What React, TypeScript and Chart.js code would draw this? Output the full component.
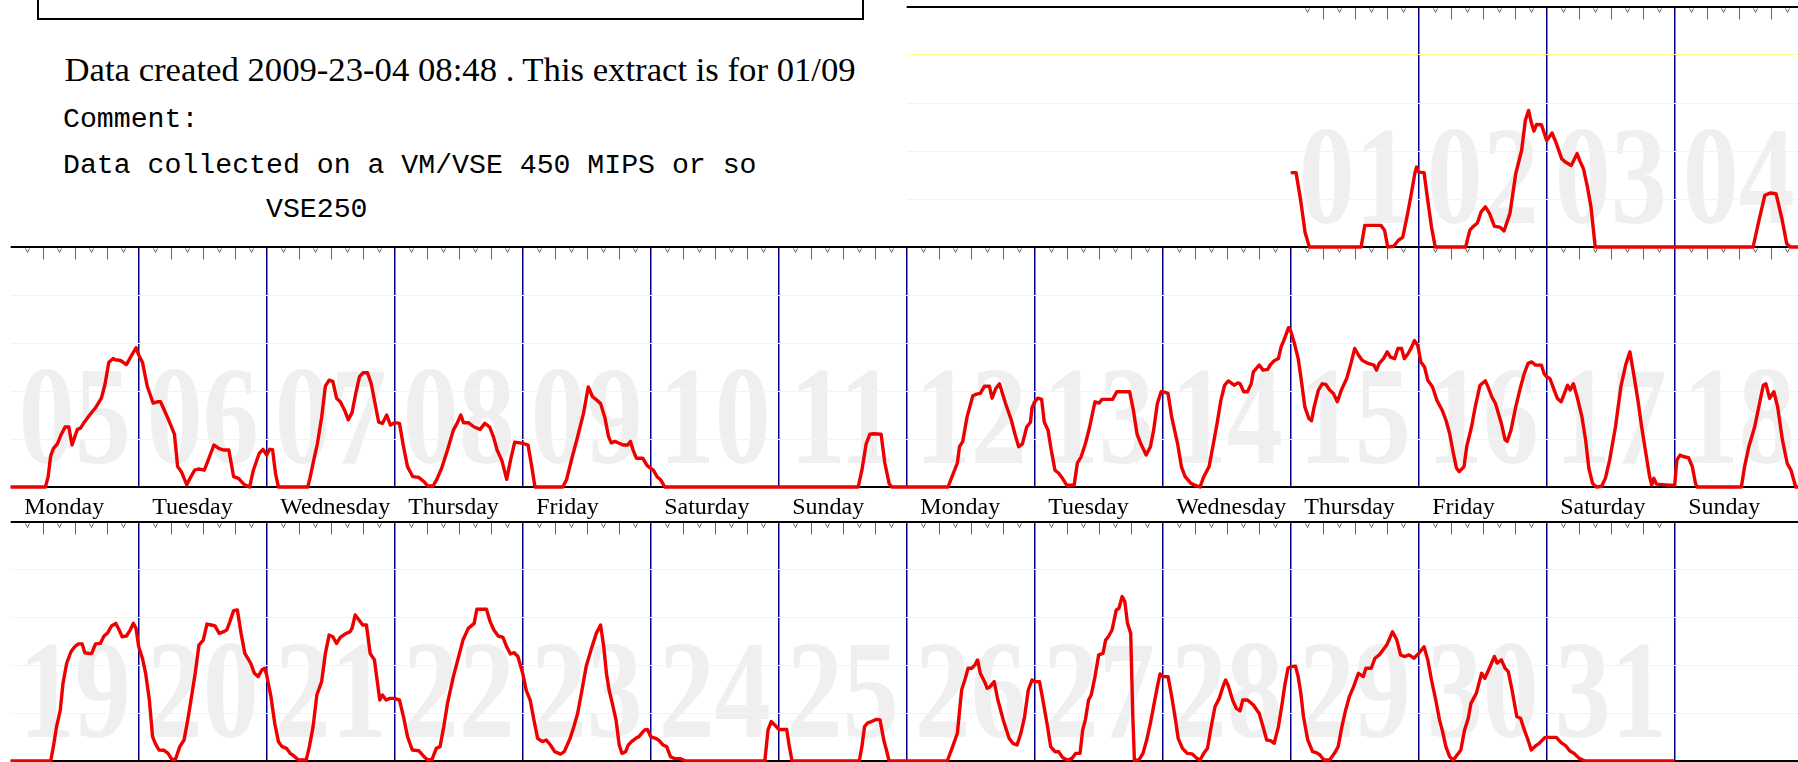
import React, { useEffect, useRef } from "react";
import { Chart, registerables } from "chart.js";

Chart.register(...registerables);

type P = [number, number]; // [hour of day, percent]

// ---------------- data: one array per calendar day (hour, value %) ----------------
const d01: P[] = [[0,31],[1,31],[1.9,19],[2.7,6],[3.5,0],[13.2,0],[13.9,9],[16.9,9],[17.6,7],[18.2,0],[19.3,0.3],[20.2,2.8],[21,4],[21.8,12.5],[22.6,22],[23.3,31],[23.6,33.3],[24,31.2]];
const d02: P[] = [[0,31.2],[1,31],[1.7,19.4],[2.4,8.3],[3.1,0],[8.8,0],[9.6,7],[10.1,8.3],[11,10],[11.7,14.6],[12.5,16.7],[13.3,13.9],[14.2,8.6],[15.2,8.3],[16,6.7],[17.1,13.9],[18.2,30.6],[19.3,40.3],[20,52.8],[20.6,56.9],[21.1,52],[21.6,48.3],[22.1,51.1],[23,51],[24,44.4]];
const d03: P[] = [[0,44.4],[1,47.5],[1.7,43.8],[2.8,36.8],[3.5,35.4],[4.6,34],[5.7,38.9],[6.2,36],[6.9,32.5],[7.6,25.5],[8.3,16.7],[9.1,0],[24,0]];
const d04: P[] = [[0,0],[14.7,0],[15.8,11.1],[16.9,21.5],[17.9,22.5],[19,22.2],[20.1,11.8],[21,1.4],[21.7,0],[24,0]];
const d05: P[] = [[0,0],[6.5,0],[7,4],[7.5,13],[8,16],[8.75,18],[9.5,22],[10.2,25],[10.9,25],[11.5,17.5],[12.5,24],[13.1,24.5],[13.8,27],[14.8,30],[15.9,33],[17,37],[17.7,43],[18.4,52],[19.2,53.5],[19.6,53],[20.6,52.7],[21.7,51],[22.7,55],[23.5,58],[24,55]];
const d06: P[] = [[0,55],[0.7,52],[1.6,42],[2.7,35],[3.5,35.5],[4.1,35.5],[5.6,28],[6.7,22],[7.3,8.5],[8,6.4],[9,1],[9.8,4.3],[10.5,7],[11.2,7.5],[12.3,7],[13,11],[14.1,17.5],[15.1,16],[16,15.4],[16.9,15.4],[17.8,4.3],[18.7,3.6],[19.8,1],[20.8,0],[21.5,7],[22.6,14],[23.3,15.7],[24,13.3]];
const d07: P[] = [[0,13.3],[0.57,15.7],[1.1,15.5],[1.65,5.7],[2.2,0],[7.7,0],[8.1,3.6],[8.8,11],[9.5,18],[10.3,29],[11,42],[11.7,44.5],[12.4,44],[13.1,37],[13.8,35.5],[14.6,32],[15.3,28],[16,31],[16.7,39],[17.4,46],[18.1,47.6],[18.9,47.6],[19.6,43],[20.3,35],[21,27],[21.7,26.5],[22.5,30],[23.2,25.8],[24,26.8]];
const d08: P[] = [[0,26.8],[0.9,26.5],[1.65,16.8],[2.4,8.5],[3.4,4.3],[4.5,4],[5.5,2.2],[6.2,0.4],[7.2,0.4],[7.9,3.2],[8.8,7.8],[9.9,15.4],[11,23.7],[11.7,26.5],[12.4,30],[12.9,26.8],[13.8,26.8],[14.9,25],[16,24],[16.9,26.5],[17.8,25],[18.5,21],[19.2,15.4],[20.1,11],[21,3.2],[21.7,11],[22.5,18.7],[23.5,18.4],[24,18.2]];
const d09: P[] = [[0,18.2],[1,17.5],[1.7,8.5],[2.3,0],[7.5,0],[8.2,2.9],[9.3,12.6],[10.3,21],[11.4,30.7],[12.3,41.7],[13.1,37.6],[13.9,36.2],[14.6,34.8],[15.4,29],[16.1,21],[16.6,18.4],[17.3,19],[18.1,18.2],[18.8,17.5],[19.7,17.5],[20.2,19],[20.7,15.4],[21.3,12],[22.5,12],[23.3,9],[24,7.8]];
const d10: P[] = [[0,7.8],[0.5,7],[1.2,4.3],[1.9,2.9],[2.65,0],[24,0]];
const d11: P[] = [[0,0],[14.9,0],[15.6,7],[16.4,18],[17.1,22],[17.8,22.2],[19.2,22],[19.9,10],[20.7,1.5],[21.2,0],[24,0]];
const d12: P[] = [[0,0],[7.75,0],[8.5,4.3],[9.5,10],[9.9,16.8],[10.5,18.9],[11.3,29],[12.4,38],[13.1,38.7],[13.8,39],[14.6,42],[15.5,42],[16,37],[16.7,41],[17.4,43],[18.5,35],[19.6,28],[20.3,22],[21,16.8],[21.7,18],[22.5,25],[23.2,27],[23.5,33],[24,35.5]];
const d13: P[] = [[0,35.5],[0.6,37],[1.3,36.5],[1.8,27],[2.5,23.7],[3.1,15.4],[3.8,7],[4.5,5.7],[5.2,3.6],[6,0.8],[7.4,0.8],[8,10],[8.7,12.6],[9.5,18],[10.3,25],[11.3,35.5],[12.1,35],[12.6,36.5],[14.6,36.5],[15.4,39.7],[17.8,39.7],[18.5,32],[19.2,22],[19.9,18],[20.9,13.3],[21.7,16.8],[22.3,23.7],[23,34.8],[23.7,39.7],[24,39.7]];
const d14: P[] = [[0,39.7],[1,39],[1.7,29],[2.8,18],[3.5,8.5],[4.2,4.3],[5.3,1.5],[6,0.8],[7,0],[7.7,4.3],[8.7,8.5],[9.5,18],[10.2,26.5],[10.9,36],[11.6,42.4],[12.3,44.2],[13.4,42.4],[14.1,43.4],[14.5,43],[15.2,39.7],[15.9,39.7],[16.6,43],[17,48],[18.1,50.8],[18.8,48.7],[19.7,49],[20.2,51],[20.9,52.6],[21.7,53.5],[22.2,58.4],[22.7,61],[23.6,66.4],[24,65]];
const d15: P[] = [[0,65],[0.7,59.8],[1.4,53.5],[1.9,45.9],[2.65,33.4],[3.4,28.6],[3.9,27.6],[4.4,33.4],[5.2,40.4],[5.9,43],[6.6,42.7],[7.3,40.4],[8,39],[8.75,35.5],[9.5,40.4],[10.5,45.2],[11.3,51.5],[12,57.7],[12.7,55],[13.4,52.8],[14.5,51.5],[15.6,50.8],[16.1,48.7],[16.6,51.5],[17.4,53.5],[18.1,56.3],[18.7,54.1],[19.5,53.5],[20.1,57.7],[20.8,57.7],[21.3,53.5],[22,55.5],[22.7,58.4],[23.2,61],[23.8,59],[24,57]];
const d16: P[] = [[0,57],[0.4,52.1],[1.1,50],[1.7,44.5],[2.6,41.7],[3.4,36.2],[4.4,32],[5.1,27.9],[5.8,22.3],[6.5,14],[7.1,7.8],[7.6,6.4],[8.5,8.5],[9,16.8],[9.9,25],[10.6,33.4],[11.5,42.4],[12.5,44.2],[13,41.7],[13.7,37.6],[14.4,34.8],[15.5,26.5],[16.2,19.6],[16.6,19],[17.3,23.7],[18.2,33.4],[19.1,41.7],[19.8,47.3],[20.5,51.5],[21.2,52.1],[21.9,50.8],[23,50.8],[23.5,47.3],[24,45.9]];
const d17: P[] = [[0,45.9],[0.6,45.2],[1.3,41],[2,36.9],[2.7,35.5],[3.2,38.3],[3.9,42.4],[4.4,40.4],[5,43],[5.7,37.6],[6.6,29.3],[7.3,19.6],[7.9,7.8],[8.6,1.5],[9.3,0],[10.3,0.3],[11,3.6],[11.8,11.2],[12.9,25.1],[13.9,41.7],[14.8,50.8],[15.6,56.3],[16.4,45.9],[17.1,36.2],[17.8,25.1],[18.6,14],[19.3,4.3],[19.7,0.8],[20.1,3.6],[20.6,1.2],[23,0.8],[24,0.8]];
const d18: P[] = [[0,0.8],[0.4,11.2],[1,13.3],[1.7,12.6],[2.6,12.2],[3.3,8.5],[3.9,1.5],[4.2,0],[12.5,0],[13.1,8.5],[13.9,16.8],[15,25.1],[15.9,34.8],[16.6,42.4],[17.1,43],[17.8,36.9],[18.6,39.7],[19.3,33.4],[20.2,19.6],[21.1,9.8],[21.8,7],[22.7,0],[24,0]];
const d19: P[] = [[0,0],[7.5,0],[8,6],[8.6,14.4],[9.3,21.3],[9.8,32.5],[10.5,40.9],[11.3,45.7],[12,47.8],[12.7,49],[13.4,49],[13.9,45.3],[14.5,45],[15.2,45],[15.9,49],[16.8,49.2],[17.5,52.3],[18.2,53.7],[18.9,56.5],[19.7,57.6],[20.4,54.5],[20.9,52],[21.7,52.3],[22.4,54.8],[23,57.6],[23.5,55.5],[24,47.8]];
const d20: P[] = [[0,47.8],[0.7,43],[1.3,36.7],[2,25.5],[2.6,10.2],[3.1,7.4],[3.8,4.6],[4.7,4.5],[5.5,3.2],[6.2,0.7],[6.9,0.7],[7.7,6],[8.5,8.8],[9.2,17.2],[9.9,26.9],[10.6,36.7],[11.3,48.5],[12.1,50.6],[12.8,57.3],[13.6,56.9],[14.3,56.5],[15.1,53.4],[15.8,54],[16.5,54.8],[17.1,58.3],[17.8,62.9],[18.5,63.2],[19.2,53.4],[19.9,45],[21,40.9],[21.7,36.7],[22.4,35.3],[23.1,38.1],[23.6,38.8],[24,36]];
const d21: P[] = [[0,36],[0.8,26.9],[1.5,15.8],[2.2,8.1],[2.9,6],[3.7,5.3],[4.4,3.2],[5.1,2.1],[5.95,0.4],[7.4,0.4],[8,6],[8.7,14.4],[9.4,27.6],[10.3,33.2],[11,45],[11.7,52.7],[12.4,52],[13.1,49.2],[13.8,51.7],[14.9,53.4],[15.6,54],[16,55.5],[16.6,61.1],[17.3,59],[18,56.9],[18.7,56.9],[19.4,45],[20.2,42.3],[20.7,33.9],[21.2,25.5],[21.7,27.6],[22.4,25.5],[23.1,26.2],[24,26.2]];
const d22: P[] = [[0,26.2],[0.9,25.5],[1.65,18.5],[2.4,10.2],[3.3,4.6],[4.5,4.3],[5.5,1.8],[6.2,0.4],[7,0.7],[7.8,5.3],[8.5,6],[9.2,14.4],[9.9,24.1],[11,35.3],[12,43.7],[12.8,50.6],[13.8,55.5],[14.9,57.6],[15.4,63.5],[17.2,63.5],[17.9,58.3],[18.6,54.8],[19.4,52.3],[20.3,51.7],[21,47.8],[21.7,44.8],[22.4,45.3],[23.1,43.7],[24,36.7]];
const d23: P[] = [[0,36.7],[0.65,29.7],[1.4,25.5],[2.1,17.2],[2.8,9.5],[3.7,8.1],[4.4,8.8],[5.2,6.7],[6,3.9],[7.1,2.9],[7.8,3.9],[8.9,9.5],[9.6,14.4],[10.3,19.9],[11,28.3],[11.9,39.5],[12.8,46.4],[13.8,53.4],[14.6,56.9],[15.2,47.8],[15.7,36.7],[16.2,29.7],[16.8,24.1],[17.5,17.2],[18.1,6.7],[18.6,3.2],[19.3,3.9],[19.8,6.7],[20.4,8.1],[21.2,9.5],[21.8,10.2],[22.3,11.6],[22.9,13],[23.4,13.2],[24,10.2]];
const d24: P[] = [[0,10.2],[0.9,9.5],[1.6,8.5],[2.3,6.7],[3,6],[3.7,1.8],[4.4,1.1],[5.5,1],[6.6,0],[21.4,0],[22,13],[22.6,16.5],[23.3,15],[24,13.2]];
const d25: P[] = [[0,13.2],[1.5,13.2],[2,6],[2.5,0],[15.1,0],[15.6,6],[16.1,14.4],[16.7,16],[17.4,16.5],[18.3,17.4],[19,17.2],[19.7,8.8],[20.2,4.6],[20.7,0],[24,0]];
const d26: P[] = [[0,0],[7.6,0],[8.5,5.3],[9.5,11.6],[10.3,29.7],[11,34.6],[11.5,38.8],[12.2,38.8],[12.8,40.2],[13.3,42.3],[13.8,36.7],[14.6,33.2],[15.1,30.4],[15.6,31],[16.4,33.2],[17.1,25.5],[18.1,17.2],[19.2,9.5],[19.9,7.4],[20.7,6.7],[21.4,11.6],[22.1,18.5],[22.8,29.7],[23.5,33.9],[24,33.2]];
const d27: P[] = [[0,33.2],[0.9,33.2],[1.65,24.1],[2.4,14.4],[3,6],[3.8,3.9],[4.5,3.9],[5.2,1.5],[6.1,0.4],[7,1.1],[7.7,3.2],[8.5,3.2],[9,13],[9.5,17.2],[10.1,25.5],[10.6,27.6],[11.3,35.3],[12,44.4],[12.8,45],[13.3,50.6],[13.8,52],[14.5,54.8],[15.3,63.2],[15.8,63.9],[16.4,68.8],[16.9,66.7],[17.4,57.6],[18,53.4],[18.4,18.5],[18.7,0],[19.6,0.7],[20.3,3.2],[21,8.8],[21.7,15.8],[22.4,24.1],[23,31.1],[23.5,36.4],[24,35.3]];
const d28: P[] = [[0,35.3],[1,35.3],[1.7,26.9],[2.4,17.2],[2.9,9.5],[3.7,5.3],[4.6,3.2],[5.5,3],[6.4,1.1],[7,0.4],[7.7,3.2],[8.4,5.3],[9.1,14.4],[9.8,22.7],[10.6,26.2],[11.3,31.1],[11.8,33.9],[12.3,31.5],[13.1,25.5],[13.8,22],[14.5,21],[15,25.5],[15.9,25.5],[17,23.4],[18.1,19.9],[18.8,14.4],[19.5,8.8],[20.2,8.5],[20.9,7.4],[21.7,14.4],[22.4,24.1],[22.9,31.8],[23.5,38.8],[24,39.5]];
const d29: P[] = [[0,39.5],[0.9,39.7],[1.4,35.3],[1.9,28.3],[2.4,18.5],[3.2,8.8],[4.1,3.9],[4.8,3.5],[5.5,2.5],[6.2,0.4],[7.3,0.4],[8.2,3.2],[8.9,6],[9.6,14.4],[10.3,21.3],[11,26.9],[11.8,31.1],[12.7,36.7],[13.6,35.3],[14.1,38.8],[15.1,38.8],[15.8,43],[16.6,44.4],[17.3,46.4],[18,48.5],[19.1,54.1],[19.9,50.6],[20.6,44.4],[21.3,43.7],[22.2,44.4],[23.1,43],[24,45]];
const d30: P[] = [[0,45],[1,47.8],[1.7,42.3],[2.4,33.9],[3.2,25.5],[3.9,17.2],[4.4,13],[5.1,6],[5.8,1.8],[6.5,0.4],[7.2,2.5],[7.9,4.6],[8.6,13],[9.3,17.9],[9.8,24.1],[10.8,28.3],[11.8,36.7],[12.4,34.6],[13.1,38.1],[14.2,43.7],[14.7,41],[15.5,42.3],[16.2,38.8],[16.8,37.4],[17.5,29.7],[18.4,18.5],[19.1,17.9],[19.8,13],[20.5,8.8],[21.1,4.6],[21.9,6.3],[22.6,7.4],[23.7,9.9],[24,9.9]];
const d31: P[] = [[0,9.9],[1.8,9.9],[2.7,7.7],[3.6,6.3],[4.3,4.3],[5.1,3.2],[6.1,1.1],[6.8,0.4],[7.2,0],[24,0]];

const weekdayNames = ["Monday", "Tuesday", "Wednesday", "Thursday", "Friday", "Saturday", "Sunday"];
const strip1Days = ["01", "02", "03", "04"];
const strip2Days = ["05", "06", "07", "08", "09", "10", "11", "12", "13", "14", "15", "16", "17", "18"];
const strip3Days = ["19", "20", "21", "22", "23", "24", "25", "26", "27", "28", "29", "30", "31"];
const yGridValues = [20, 40, 60, 80];

const headerTitle = "Data created 2009-23-04 08:48 . This extract is for 01/09";
const commentLabel = "Comment:";
const commentText = "Data collected on a VM/VSE 450 MIPS or so";
const systemName = "VSE250";

const dayData: Record<string, P[]> = {
  "01": d01, "02": d02, "03": d03, "04": d04, "05": d05, "06": d06, "07": d07, "08": d08,
  "09": d09, "10": d10, "11": d11, "12": d12, "13": d13, "14": d14, "15": d15, "16": d16,
  "17": d17, "18": d18, "19": d19, "20": d20, "21": d21, "22": d22, "23": d23, "24": d24,
  "25": d25, "26": d26, "27": d27, "28": d28, "29": d29, "30": d30, "31": d31,
};

// ---------------- layout ----------------
const CANVAS_W = 1810;
const CANVAS_H = 762;
const COL0 = 10.7;
const DAY_W = 128;
const AREA_RIGHT = COL0 + 14 * DAY_W;

interface StripSpec {
  days: string[];
  dataCol: number; // column of first data day
  firstCol: number; // first column of the drawn grid
  top: number;
  bottom: number;
  dayLabels: boolean;
}

const strips: StripSpec[] = [
  { days: strip2Days, dataCol: 0, firstCol: 0, top: 247, bottom: 487, dayLabels: true },
  { days: strip3Days, dataCol: 0, firstCol: 0, top: 522, bottom: 761, dayLabels: false },
  { days: strip1Days, dataCol: 10, firstCol: 7, top: 7, bottom: 247, dayLabels: false },
];

const RED = "#ee0000";
const NAVY = "#000080";
const YELLOW = "#ffff99";
const WATERMARK = "#efefef";
const TICK_GRAY = "#666666";

function StripChart({ spec }: { spec: StripSpec }) {
  const ref = useRef<HTMLCanvasElement | null>(null);
  useEffect(() => {
    const canvas = ref.current;
    if (!canvas) return;
    const points: { x: number; y: number }[] = [];
    spec.days.forEach((d, i) => {
      const col = spec.dataCol + i;
      for (const [h, v] of dayData[d]) points.push({ x: col * 24 + h, y: v });
    });
    const dataCols = spec.days.map((_, i) => spec.dataCol + i);
    const dayEnds = new Set(dataCols.map((c) => (c + 1) * 24));
    const boundaries: number[] = [];
    for (let c = spec.firstCol; c <= 14; c++) boundaries.push(c * 24);

    const plugin = {
      id: "stripDecor",
      beforeDraw(chart: any) {
        const { ctx, scales } = chart;
        const xs = scales.x;
        ctx.save();
        ctx.fillStyle = WATERMARK;
        ctx.font = 'bold 140px "Liberation Serif"';
        ctx.textAlign = "center";
        ctx.textBaseline = "alphabetic";
        spec.days.forEach((d, i) => {
          const col = spec.dataCol + i;
          const cx = xs.getPixelForValue(col * 24 + 12);
          ctx.save();
          ctx.translate(cx, spec.bottom - 24);
          ctx.scale(0.8, 1);
          ctx.fillText(d, 0, 0);
          ctx.restore();
        });
        ctx.restore();
      },
      beforeDatasetsDraw(chart: any) {
        const { ctx, scales, chartArea } = chart;
        const xs = scales.x;
        ctx.save();
        // ticks along the top axis (every 3 hours)
        ctx.strokeStyle = TICK_GRAY;
        ctx.lineWidth = 1;
        dataCols.forEach((c) => {
          for (let j = 1; j < 8; j++) {
            const x = Math.round(xs.getPixelForValue(c * 24 + j * 3)) + 0.5;
            ctx.beginPath();
            if (j % 2 === 0) {
              ctx.moveTo(x, chartArea.top);
              ctx.lineTo(x, chartArea.top + 12.5);
            } else {
              ctx.moveTo(x - 2, chartArea.top + 1.5);
              ctx.lineTo(x, chartArea.top + 5.5);
              ctx.lineTo(x + 2, chartArea.top + 1.5);
            }
            ctx.stroke();
          }
        });
        // top axis and base line
        ctx.strokeStyle = "#000";
        ctx.lineWidth = 2;
        ctx.beginPath();
        ctx.moveTo(chartArea.left, chartArea.top);
        ctx.lineTo(CANVAS_W, chartArea.top);
        ctx.moveTo(chartArea.left, chartArea.bottom);
        ctx.lineTo(CANVAS_W, chartArea.bottom);
        ctx.stroke();
        ctx.restore();
      },
      afterDraw(chart: any) {
        if (!spec.dayLabels) return;
        const { ctx, scales } = chart;
        const xs = scales.x;
        ctx.save();
        ctx.fillStyle = "#000";
        ctx.font = '24px "Liberation Serif"';
        ctx.textAlign = "left";
        ctx.textBaseline = "alphabetic";
        for (let c = 0; c < 14; c++) {
          ctx.fillText(weekdayNames[c % 7], xs.getPixelForValue(c * 24) + 13.5, spec.bottom + 27);
        }
        ctx.restore();
      },
    };

    const chart = new Chart(canvas, {
      type: "line",
      data: {
        datasets: [
          {
            data: points,
            borderColor: RED,
            borderWidth: 3.4,
            pointRadius: 0,
            tension: 0,
            fill: false,
            clip: false as any,
            borderJoinStyle: "round",
          },
        ],
      },
      options: {
        animation: false,
        responsive: false,
        events: [],
        parsing: false,
        layout: {
          padding: {
            left: COL0 + spec.firstCol * DAY_W,
            right: CANVAS_W - AREA_RIGHT,
            top: spec.top,
            bottom: CANVAS_H - spec.bottom,
          },
        },
        plugins: { legend: { display: false }, tooltip: { enabled: false }, title: { display: false } },
        scales: {
          x: {
            type: "linear",
            min: spec.firstCol * 24,
            max: 14 * 24,
            border: { display: false },
            ticks: { display: false },
            grid: {
              drawTicks: false,
              lineWidth: 1.5,
              color: (ctx: any) => (ctx.tick && dayEnds.has(ctx.tick.value) ? NAVY : "rgba(0,0,0,0)"),
            },
            afterBuildTicks: (axis: any) => {
              axis.ticks = boundaries.map((v) => ({ value: v }));
            },
          },
          y: {
            type: "linear",
            min: 0,
            max: 100,
            border: { display: false },
            ticks: { display: false, stepSize: 20 },
            grid: {
              drawTicks: false,
              lineWidth: 1,
              color: (ctx: any) => (ctx.tick && yGridValues.includes(ctx.tick.value) ? YELLOW : "rgba(0,0,0,0)"),
            },
          },
        },
      },
      plugins: [plugin],
    } as any);
    return () => chart.destroy();
  }, [spec]);
  return (
    <canvas
      ref={ref}
      width={CANVAS_W}
      height={CANVAS_H}
      style={{ position: "absolute", left: 0, top: 0, width: CANVAS_W, height: CANVAS_H }}
    />
  );
}

export default function App() {
  const serif = '"Liberation Serif", "Times New Roman", serif';
  const mono = '"Liberation Mono", "Courier New", monospace';
  return (
    <div
      style={{
        position: "fixed",
        left: 0,
        top: 0,
        width: 1798,
        height: 762,
        overflow: "hidden",
        background: "#fff",
      }}
    >
      <div
        style={{
          position: "absolute",
          left: 37,
          top: -20,
          width: 827,
          height: 40,
          boxSizing: "border-box",
          border: "2px solid #000",
        }}
      />
      <div style={{ position: "absolute", left: 64.5, top: 53, fontFamily: serif, fontSize: 34.7, lineHeight: "34.7px", whiteSpace: "pre", color: "#000" }}>
        {headerTitle}
      </div>
      <div style={{ position: "absolute", left: 63, top: 105.5, fontFamily: mono, fontSize: 28.2, lineHeight: "28.2px", whiteSpace: "pre", color: "#000" }}>
        {commentLabel}
      </div>
      <div style={{ position: "absolute", left: 63, top: 151.5, fontFamily: mono, fontSize: 28.2, lineHeight: "28.2px", whiteSpace: "pre", color: "#000" }}>
        {commentText}
      </div>
      <div style={{ position: "absolute", left: 63, top: 195.5, fontFamily: mono, fontSize: 28.2, lineHeight: "28.2px", whiteSpace: "pre", color: "#000" }}>
        {"            " + systemName}
      </div>
      {strips.map((s, i) => (
        <StripChart key={i} spec={s} />
      ))}
    </div>
  );
}
